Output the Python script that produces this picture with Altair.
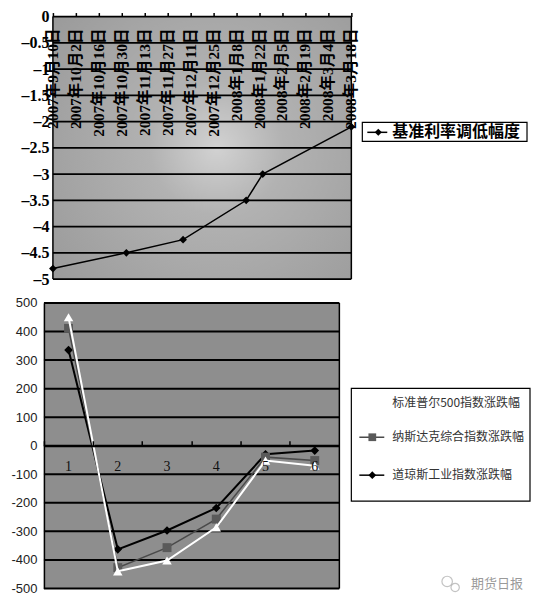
import altair as alt
import pandas as pd

# ---------------- data: top panel ----------------
top_tick_labels = ["2007年9月10日", "2007年10月2日", "2007年10月16日", "2007年10月30日",
                   "2007年11月13日", "2007年11月27日", "2007年12月11日", "2007年12月25日",
                   "2008年1月8日", "2008年1月22日", "2008年2月5日", "2008年2月19日",
                   "2008年3月4日", "2008年3月18日"]
top_tick_pos = list(range(14))
rate_pos = [0, 3.2, 5.67, 8.42, 9.14, 13]
rate_vals = [-4.8, -4.5, -4.25, -3.5, -3.0, -2.1]
top_y_ticks = [0, -0.5, -1, -1.5, -2, -2.5, -3, -3.5, -4, -4.5, -5]
top_legend = ["基准利率调低幅度"]

# ---------------- data: bottom panel ----------------
cats = ["1", "2", "3", "4", "5", "6"]
sp500 = [450, -440, -402, -286, -52, -70]
nasdaq = [411, -427, -357, -257, -40, -52]
dow = [335, -363, -297, -218, -30, -17]
series_names = ["标准普尔500指数涨跌幅", "纳斯达克综合指数涨跌幅", "道琼斯工业指数涨跌幅"]
bottom_y_ticks = list(range(-500, 501, 100))
watermark = ["期货日报"]

one = pd.DataFrame({"k": [0]})

# ================= TOP PANEL =================
W1, H1, X0 = 308, 263, 9
xs = alt.Scale(domain=[0, 13], range=[X0, W1], nice=False, zero=False)
ys = alt.Scale(domain=[-5, 0], nice=False, zero=False)
xaxis_top = alt.Axis(orient="top", values=top_tick_pos, labels=False, domain=False, grid=False,
                     ticks=True, tickSize=4, tickColor="black", tickWidth=1.5, title=None)
yaxis_top = alt.Axis(values=top_y_ticks, labelExpr="replace(datum.value + '', '-', '–')",
                     labelFont="Liberation Serif", labelFontWeight="bold", labelFontSize=16,
                     labelColor="black", labelPadding=4, ticks=False, domain=False, grid=False,
                     title=None, offset=-X0, minExtent=0)

grad = {"gradient": "radial", "x1": 0.55, "y1": 0.5, "x2": 0.55, "y2": 0.5, "r1": 0, "r2": 0.75,
        "stops": [{"offset": 0, "color": "#d2d2d2"}, {"offset": 0.3, "color": "#b2b2b2"},
                  {"offset": 1, "color": "#989898"}]}

t_bg = alt.Chart(one).mark_rect(fill=grad).encode(
    x=alt.value(X0), x2=alt.value(W1), y=alt.value(0), y2=alt.value(H1))

t_grid = alt.Chart(pd.DataFrame({"v": top_y_ticks})).mark_rule(color="black", strokeWidth=1.8).encode(
    y=alt.Y("v:Q", scale=ys, axis=yaxis_top), x=alt.value(X0), x2=alt.value(W1))

t_left = alt.Chart(one).mark_rule(color="black", strokeWidth=1.5).encode(
    x=alt.value(X0), y=alt.value(0), y2=alt.value(H1))
t_right = alt.Chart(one).mark_rule(color="black", strokeWidth=1.5).encode(
    x=alt.value(W1), y=alt.value(0), y2=alt.value(H1))

t_labels = alt.Chart(pd.DataFrame({"pos": top_tick_pos, "label": top_tick_labels})).mark_text(
    angle=270, align="right", baseline="middle", font="Liberation Serif, Noto Sans CJK SC",
    fontWeight="bold", fontSize=15.5, color="black").encode(
    x=alt.X("pos:Q", scale=xs, axis=xaxis_top), y=alt.value(12), text="label:N")

rate_df = pd.DataFrame({"pos": rate_pos, "v": rate_vals})
t_line = alt.Chart(rate_df).mark_line(color="black", strokeWidth=1.5).encode(
    x=alt.X("pos:Q", scale=xs, axis=xaxis_top), y=alt.Y("v:Q", scale=ys, axis=yaxis_top))
t_pts = alt.Chart(rate_df).mark_point(shape="diamond", filled=True, size=60, color="black", opacity=1).encode(
    x=alt.X("pos:Q", scale=xs, axis=xaxis_top), y=alt.Y("v:Q", scale=ys, axis=yaxis_top))

t_leg_box = alt.Chart(one).mark_rect(fill="white", stroke="black", strokeWidth=1.2).encode(
    x=alt.value(319), x2=alt.value(484), y=alt.value(106), y2=alt.value(125))
t_leg_line = alt.Chart(one).mark_rule(color="black", strokeWidth=1.5).encode(
    x=alt.value(324), x2=alt.value(344), y=alt.value(116))
t_leg_pt = alt.Chart(one).mark_point(shape="diamond", filled=True, size=50, color="black", opacity=1).encode(
    x=alt.value(335), y=alt.value(116))
t_leg_txt = alt.Chart(pd.DataFrame({"t": top_legend})).mark_text(
    align="left", baseline="middle", font="Noto Sans CJK SC", fontWeight="bold", fontSize=16,
    color="black").encode(x=alt.value(349), y=alt.value(116), text="t:N")

top = alt.layer(t_bg, t_grid, t_left, t_right, t_line, t_pts, t_labels,
                t_leg_box, t_leg_line, t_leg_pt, t_leg_txt).properties(width=W1, height=H1)

# ================= BOTTOM PANEL =================
W2, H2 = 296, 286
xb = alt.Scale(type="band", domain=cats, paddingInner=0, paddingOuter=0)
yb = alt.Scale(domain=[-500, 500], nice=False, zero=False)
xaxis_b = alt.Axis(orient="top", offset=-H2 / 2, labels=False, domain=True, domainColor="black",
                   domainWidth=2, ticks=True, tickSize=5, tickColor="black", tickWidth=1.5,
                   bandPosition=0, grid=False, title=None, zindex=1)
yaxis_b = alt.Axis(values=bottom_y_ticks, labelExpr="datum.value + ''", labelFont="Liberation Sans",
                   labelFontSize=13, labelColor="#222", labelPadding=7, ticks=False, domain=True,
                   domainColor="black", domainWidth=1.5, grid=False, title=None, minExtent=36, zindex=1)

b_bg = alt.Chart(one).mark_rect(fill="#8e8e8e").encode(
    x=alt.value(0), x2=alt.value(W2), y=alt.value(0), y2=alt.value(H2))
b_grid = alt.Chart(pd.DataFrame({"v": bottom_y_ticks})).mark_rule(color="black", strokeWidth=2).encode(
    y=alt.Y("v:Q", scale=yb, axis=yaxis_b), x=alt.value(0), x2=alt.value(W2))
b_right = alt.Chart(one).mark_rule(color="black", strokeWidth=1.5).encode(
    x=alt.value(W2), y=alt.value(0), y2=alt.value(H2))

b_cat = alt.Chart(pd.DataFrame({"cat": cats})).mark_text(
    font="Liberation Serif", fontSize=14, color="#111", baseline="middle").encode(
    x=alt.X("cat:N", scale=xb, axis=xaxis_b), y=alt.value(164), text="cat:N")


def series_layers(vals, line_color, line_w, shape, pt_color, pt_size):
    df = pd.DataFrame({"cat": cats, "v": vals})
    enc = dict(x=alt.X("cat:N", scale=xb, axis=xaxis_b), y=alt.Y("v:Q", scale=yb, axis=yaxis_b))
    ln = alt.Chart(df).mark_line(color=line_color, strokeWidth=line_w).encode(**enc)
    pt = alt.Chart(df).mark_point(shape=shape, filled=True, size=pt_size, color=pt_color, opacity=1).encode(**enc)
    return [ln, pt]


dow_l = series_layers(dow, "black", 2, "diamond", "black", 75)
nas_l = series_layers(nasdaq, "#4a4a4a", 1.5, "square", "#5a5a5a", 80)
sp_l = series_layers(sp500, "white", 2, "triangle-up", "white", 90)

b_leg_box = alt.Chart(one).mark_rect(fill="white", stroke="black", strokeWidth=1.2).encode(
    x=alt.value(308), x2=alt.value(487), y=alt.value(85.5), y2=alt.value(198.5))
b_leg_nas_line = alt.Chart(one).mark_rule(color="#4a4a4a", strokeWidth=1.5).encode(
    x=alt.value(316), x2=alt.value(341), y=alt.value(134.5))
b_leg_nas_pt = alt.Chart(one).mark_point(shape="square", filled=True, size=60, color="#5a5a5a", opacity=1).encode(
    x=alt.value(329), y=alt.value(134.5))
b_leg_dow_line = alt.Chart(one).mark_rule(color="black", strokeWidth=1.5).encode(
    x=alt.value(316), x2=alt.value(341), y=alt.value(172.5))
b_leg_dow_pt = alt.Chart(one).mark_point(shape="diamond", filled=True, size=60, color="black", opacity=1).encode(
    x=alt.value(329), y=alt.value(172.5))

leg_rows = [100.5, 134.5, 172.5]
b_leg_txts = [
    alt.Chart(pd.DataFrame({"t": [name]})).mark_text(
        align="left", baseline="middle", font="Noto Sans CJK SC", fontSize=12, color="#333").encode(
        x=alt.value(349), y=alt.value(yy), text="t:N")
    for name, yy in zip(series_names, leg_rows)
]

wm_txt = alt.Chart(pd.DataFrame({"t": watermark})).mark_text(
    align="left", baseline="middle", font="Noto Sans CJK SC", fontSize=13, color="#9a9a9a").encode(
    x=alt.value(428), y=alt.value(282), text="t:N")
wm_c1 = alt.Chart(one).mark_point(shape="circle", filled=False, size=110, color="#aaaaaa", strokeWidth=1.2).encode(
    x=alt.value(404), y=alt.value(279))
wm_c2 = alt.Chart(one).mark_point(shape="circle", filled=False, size=70, color="#aaaaaa", strokeWidth=1.2).encode(
    x=alt.value(412), y=alt.value(285))

bottom = alt.layer(b_bg, b_grid, b_right, *dow_l, *nas_l, *sp_l, b_cat,
                   b_leg_box, b_leg_nas_line, b_leg_nas_pt, b_leg_dow_line, b_leg_dow_pt, *b_leg_txts,
                   wm_c1, wm_c2, wm_txt).properties(width=W2, height=H2)

chart = alt.vconcat(top, bottom, spacing=10).properties(padding=0, background="white").configure_view(
    stroke=None)

chart.save("out.html", embed_options={"renderer": "svg", "actions": False})
